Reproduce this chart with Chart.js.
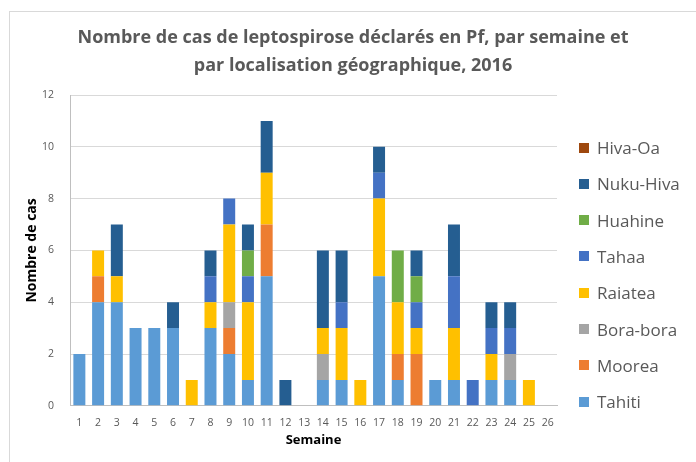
<!DOCTYPE html>
<html>
<head>
<meta charset="utf-8">
<script src="https://cdn.jsdelivr.net/npm/chart.js"></script>
<style>
  html, body { margin: 0; padding: 0; background: #fff; overflow: hidden; }
  #wrap { position: relative; width: 696px; height: 462px; }
  #frame { position: absolute; left: 9px; top: 11px; width: 700px; height: 460px; border-left: 1px solid #d9d9d9; border-top: 1px solid #d9d9d9; }
  #chart { position: absolute; left: 0; top: 0; }
  #legend { position: absolute; left: 579px; top: 0; font-family: "Open Sans", sans-serif; font-size: 17px; color: #595959; }
  #legend .item { position: absolute; left: 0; white-space: nowrap; display: flex; align-items: center; }
  #legend .box { width: 10px; height: 10px; margin-right: 8px; }
</style>
</head>
<body>
<div id="wrap">
  <div id="frame"></div>
  <canvas id="chart" width="696" height="462"></canvas>
  <div id="legend"></div>
</div>
<script>
'use strict';

const weeks = ['1','2','3','4','5','6','7','8','9','10','11','12','13','14','15','16','17','18','19','20','21','22','23','24','25','26'];

// cases per week, one array per location
const tahiti   = [2,4,4,3,3,3,0,3,2,1,5,0,0,1,1,0,5,1,0,1,1,0,1,1,0,0];
const moorea   = [0,1,0,0,0,0,0,0,1,0,2,0,0,0,0,0,0,1,2,0,0,0,0,0,0,0];
const boraBora = [0,0,0,0,0,0,0,0,1,0,0,0,0,1,0,0,0,0,0,0,0,0,0,1,0,0];
const raiatea  = [0,1,1,0,0,0,1,1,3,3,2,0,0,1,2,1,3,2,1,0,2,0,1,0,1,0];
const tahaa    = [0,0,0,0,0,0,0,1,1,1,0,0,0,0,1,0,1,0,1,0,2,1,1,1,0,0];
const huahine  = [0,0,0,0,0,0,0,0,0,1,0,0,0,0,0,0,0,2,1,0,0,0,0,0,0,0];
const nukuHiva = [0,0,2,0,0,1,0,1,0,1,2,1,0,3,2,0,1,0,1,0,2,0,1,1,0,0];
const hivaOa   = [0,0,0,0,0,0,0,0,0,0,0,0,0,0,0,0,0,0,0,0,0,0,0,0,0,0];

const yTicks = [0,2,4,6,8,10,12];

const titleLines = ['Nombre de cas de leptospirose déclarés en Pf, par semaine et', 'par localisation géographique, 2016'];

const series = [
  { label: 'Tahiti',    data: tahiti,   color: '#5B9BD5' },
  { label: 'Moorea',    data: moorea,   color: '#ED7D31' },
  { label: 'Bora-bora', data: boraBora, color: '#A5A5A5' },
  { label: 'Raiatea',   data: raiatea,  color: '#FFC000' },
  { label: 'Tahaa',     data: tahaa,    color: '#4472C4' },
  { label: 'Huahine',   data: huahine,  color: '#70AD47' },
  { label: 'Nuku-Hiva', data: nukuHiva, color: '#255E91' },
  { label: 'Hiva-Oa',   data: hivaOa,   color: '#9E480E' }
];

const tickFont = { family: 'Open Sans', size: 10.5 };

// title centred on the whole canvas (the built-in one centres on the padded box)
const pageTitle = {
  id: 'pageTitle',
  afterDraw(chart) {
    const ctx = chart.ctx;
    ctx.save();
    ctx.font = 'bold 18px "Open Sans"';
    ctx.fillStyle = '#595959';
    ctx.textAlign = 'center';
    ctx.textBaseline = 'middle';
    titleLines.forEach((line, i) => ctx.fillText(line, chart.width / 2 + 5, 38 + i * 28));
    ctx.restore();
  }
};

const chart = new Chart(document.getElementById('chart'), {
  type: 'bar',
  data: {
    labels: weeks,
    datasets: series.map(s => ({
      label: s.label,
      data: s.data,
      backgroundColor: s.color,
      borderWidth: 0,
      barPercentage: 0.64,
      categoryPercentage: 1
    }))
  },
  options: {
    responsive: false,
    animation: false,
    layout: { padding: { left: 24, right: 139, top: 95, bottom: 14 } },
    plugins: {
      legend: { display: false },
      tooltip: { enabled: false },
      title: { display: false }
    },
    scales: {
      x: {
        stacked: true,
        grid: { display: false },
        border: { color: '#bfbfbf' },
        ticks: { color: '#595959', font: tickFont, autoSkip: false, maxRotation: 0, padding: 3 },
        title: { display: true, text: 'Semaine', color: '#000', font: { family: 'Open Sans', size: 13, weight: 'bold' }, padding: { top: 0, bottom: 0 } }
      },
      y: {
        stacked: true,
        min: 0,
        max: 12,
        afterBuildTicks: axis => { axis.ticks = yTicks.map(v => ({ value: v })); },
        grid: { color: '#d9d9d9', drawTicks: false },
        border: { color: '#bfbfbf' },
        ticks: { color: '#595959', font: tickFont, padding: 16 },
        title: { display: true, text: 'Nombre de cas', color: '#000', font: { family: 'Open Sans', size: 14, weight: 'bold' }, padding: 0 },
        afterFit: axis => { axis.width = 46; }
      }
    }
  },
  plugins: [pageTitle]
});

// legend on the right, top entry first (reverse of stacking order)
const legend = document.getElementById('legend');
series.slice().reverse().forEach((s, i) => {
  const item = document.createElement('div');
  item.className = 'item';
  item.style.top = (136 + i * 36.3) + 'px';
  item.innerHTML = `<span class="box" style="background:${s.color}"></span><span>${s.label}</span>`;
  legend.appendChild(item);
});
</script>
</body>
</html>
